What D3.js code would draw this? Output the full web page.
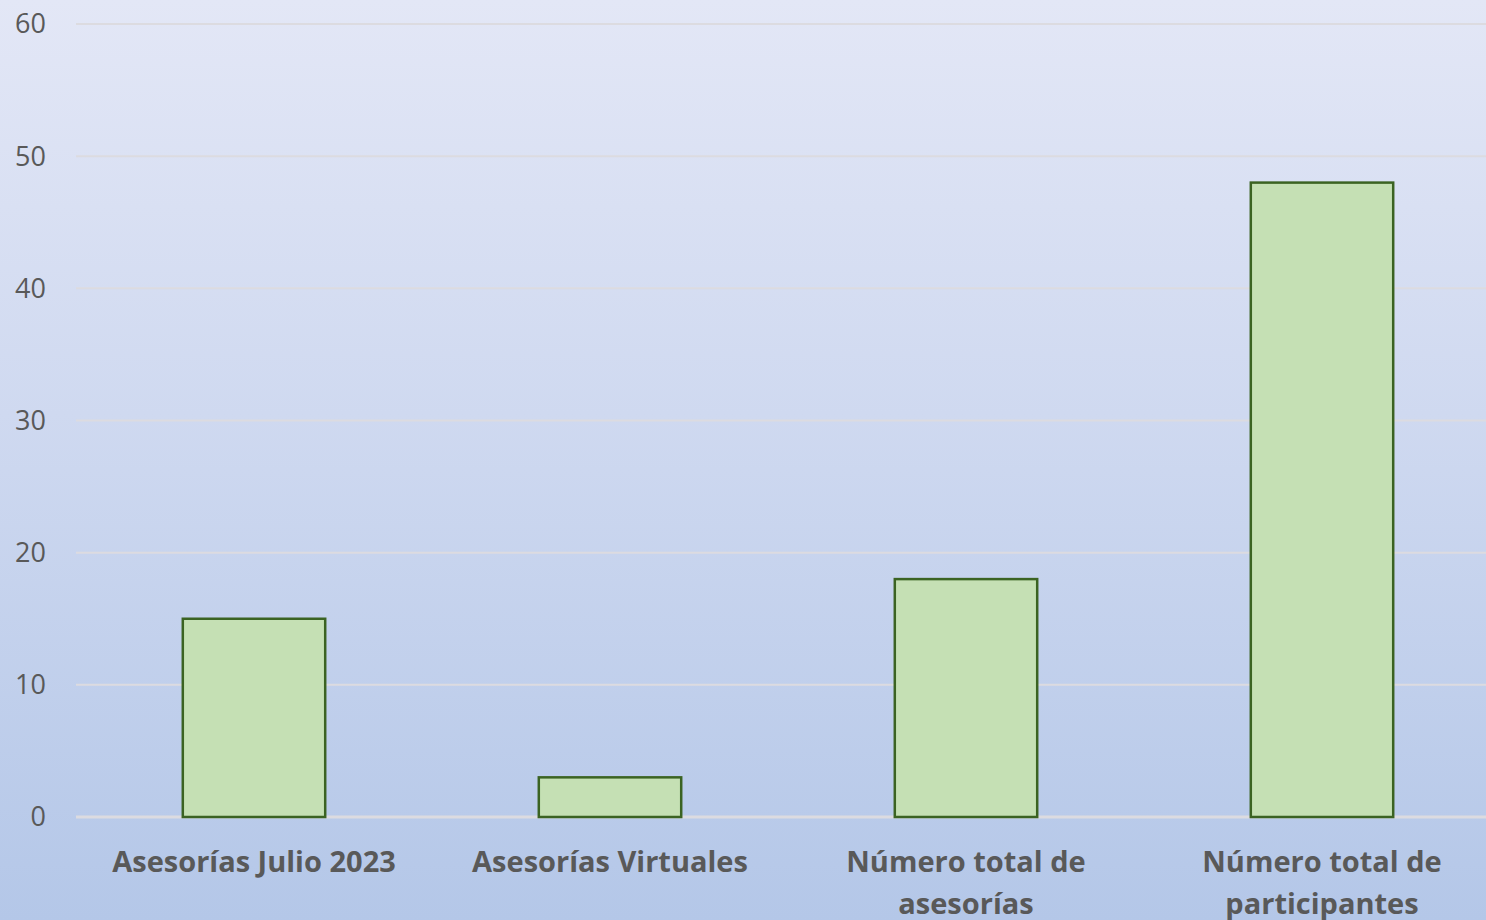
<!DOCTYPE html>
<html>
<head>
<meta charset="utf-8">
<script src="https://cdn.jsdelivr.net/npm/d3@7"></script>
<style>
    html, body { margin: 0; padding: 0; overflow: hidden; }
    svg { display: block; }
</style>
</head>
<body>
<svg id="chart"></svg>
<script>
let categories = [
    ["Asesorías Julio 2023"],
    ["Asesorías Virtuales"],
    ["Número total de", "asesorías"],
    ["Número total de", "participantes"]
];
let values = [15, 3, 18, 48];
let y_ticks = [0, 10, 20, 30, 40, 50, 60];

let width = 1486;
let height = 920;

let svg = d3.select("#chart")
    .attr("width", width)
    .attr("height", height);

// background gradient
let defs = svg.append("defs");
let grad = defs.append("linearGradient")
    .attr("id", "bg")
    .attr("x1", 0).attr("y1", 0)
    .attr("x2", 0).attr("y2", 1);
grad.append("stop").attr("offset", "0%").attr("stop-color", "#e3e7f6");
grad.append("stop").attr("offset", "45%").attr("stop-color", "#cfd9f0");
grad.append("stop").attr("offset", "100%").attr("stop-color", "#b4c7e8");

svg.append("rect")
    .attr("width", width)
    .attr("height", height)
    .attr("fill", "url(#bg)");

let x = d3.scaleBand()
    .domain(d3.range(categories.length))
    .range([76, 1500])
    .paddingInner(0.6)
    .paddingOuter(0.3);

let y = d3.scaleLinear()
    .domain([0, 60])
    .range([817, 24]);

// gridlines
svg.append("g")
    .selectAll("line")
    .data(y_ticks)
    .enter().append("line")
    .attr("x1", 76)
    .attr("x2", width)
    .attr("y1", function (d) { return y(d); })
    .attr("y2", function (d) { return y(d); })
    .attr("stroke", "#dcdbe0")
    .attr("stroke-width", function (d) { return d === 0 ? 3 : 2; });

// y tick labels
svg.append("g")
    .selectAll("text")
    .data(y_ticks)
    .enter().append("text")
    .attr("x", 46)
    .attr("y", function (d) { return y(d); })
    .attr("dy", "0.35em")
    .attr("text-anchor", "end")
    .attr("fill", "#595959")
    .style("font-family", "'Open Sans', Lato, sans-serif")
    .style("font-size", "27px")
    .text(function (d) { return d; });

// bars
svg.append("g")
    .selectAll("rect")
    .data(values)
    .enter().append("rect")
    .attr("x", function (d, i) { return x(i); })
    .attr("width", x.bandwidth())
    .attr("y", function (d) { return y(d); })
    .attr("height", function (d) { return y(0) - y(d); })
    .attr("fill", "#c5e0b4")
    .attr("stroke", "#3b6322")
    .attr("stroke-width", 2.5);

// category labels
let labels = svg.append("g")
    .selectAll("text")
    .data(categories)
    .enter().append("text")
    .attr("text-anchor", "middle")
    .attr("fill", "#595959")
    .style("font-family", "'Open Sans', Lato, sans-serif")
    .style("font-weight", "bold")
    .style("font-size", "29px");

labels.selectAll("tspan")
    .data(function (d, i) { return d.map(function (t) { return { t: t, i: i }; }); })
    .enter().append("tspan")
    .attr("x", function (d) { return x(d.i) + x.bandwidth() / 2; })
    .attr("y", function (d, j) { return 872 + j * 42; })
    .text(function (d) { return d.t; });
</script>
</body>
</html>
